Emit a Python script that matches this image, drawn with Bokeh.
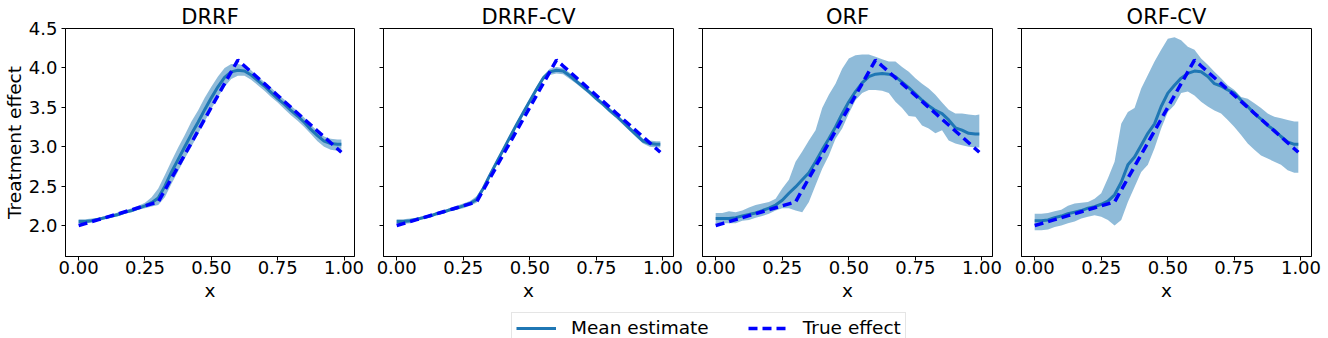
from bokeh.plotting import figure
from bokeh.layouts import column, row
from bokeh.models import (Range1d, FixedTicker, PrintfTickFormatter, Legend,
                          LegendItem)
from bokeh.embed import file_html
from bokeh.resources import INLINE
from bokeh.core.properties import value

# ---------------- data ----------------
x_vals = [0.0, 0.025, 0.05, 0.075, 0.1, 0.125, 0.15, 0.175, 0.2, 0.225, 0.25,
          0.275, 0.3, 0.325, 0.35, 0.375, 0.4, 0.425, 0.45, 0.475, 0.5, 0.525,
          0.55, 0.575, 0.6, 0.625, 0.65, 0.675, 0.7, 0.725, 0.75, 0.775, 0.8,
          0.825, 0.85, 0.875, 0.9, 0.925, 0.95, 0.975, 0.99]

true_effect = [2.0, 2.025, 2.05, 2.075, 2.1, 2.125, 2.15, 2.175, 2.2, 2.225, 2.25,
               2.275, 2.3, 2.45, 2.6, 2.75, 2.9, 3.05, 3.2, 3.35, 3.5, 3.65,
               3.8, 3.95, 4.1, 4.025, 3.95, 3.875, 3.8, 3.725, 3.65, 3.575, 3.5,
               3.425, 3.35, 3.275, 3.2, 3.125, 3.05, 2.975, 2.93]

panel_titles = ["DRRF", "DRRF-CV", "ORF", "ORF-CV"]

drrf_mean = [2.05, 2.05, 2.06, 2.08, 2.10, 2.12, 2.14, 2.17, 2.19, 2.22, 2.25,
             2.29, 2.35, 2.50, 2.68, 2.84, 3.00, 3.16, 3.31, 3.47, 3.62, 3.76,
             3.88, 3.95, 3.97, 3.96, 3.91, 3.84, 3.77, 3.69, 3.61, 3.54, 3.46,
             3.39, 3.31, 3.22, 3.14, 3.07, 3.04, 3.03, 3.03]
drrf_upper = [2.08, 2.08, 2.09, 2.10, 2.12, 2.14, 2.17, 2.19, 2.22, 2.25, 2.29,
              2.36, 2.47, 2.64, 2.82, 2.99, 3.15, 3.32, 3.46, 3.62, 3.76, 3.89,
              4.00, 4.05, 4.05, 4.03, 3.97, 3.89, 3.82, 3.75, 3.67, 3.60, 3.52,
              3.45, 3.37, 3.28, 3.20, 3.13, 3.10, 3.09, 3.09]
drrf_lower = [2.03, 2.03, 2.04, 2.06, 2.08, 2.10, 2.12, 2.15, 2.17, 2.20, 2.22,
              2.24, 2.26, 2.36, 2.53, 2.69, 2.85, 3.00, 3.16, 3.32, 3.48, 3.63,
              3.76, 3.86, 3.90, 3.90, 3.85, 3.78, 3.71, 3.63, 3.56, 3.48, 3.40,
              3.33, 3.25, 3.16, 3.07, 3.00, 2.96, 2.95, 2.95]

drrfcv_mean = [2.05, 2.05, 2.06, 2.08, 2.10, 2.12, 2.15, 2.17, 2.20, 2.22, 2.25,
               2.28, 2.33, 2.47, 2.64, 2.80, 2.96, 3.12, 3.28, 3.43, 3.58, 3.73,
               3.87, 3.95, 3.97, 3.96, 3.90, 3.83, 3.76, 3.69, 3.61, 3.54, 3.46,
               3.39, 3.31, 3.23, 3.15, 3.07, 3.04, 3.03, 3.03]
drrfcv_upper = [2.08, 2.08, 2.09, 2.10, 2.12, 2.14, 2.17, 2.19, 2.22, 2.25, 2.28,
                2.31, 2.37, 2.50, 2.67, 2.83, 2.99, 3.15, 3.31, 3.46, 3.61, 3.76,
                3.90, 3.99, 4.01, 4.00, 3.94, 3.86, 3.79, 3.72, 3.64, 3.57, 3.49,
                3.42, 3.34, 3.26, 3.18, 3.10, 3.08, 3.07, 3.07]
drrfcv_lower = [2.02, 2.02, 2.03, 2.06, 2.08, 2.10, 2.13, 2.15, 2.18, 2.20, 2.22,
                2.25, 2.29, 2.44, 2.61, 2.77, 2.93, 3.09, 3.25, 3.40, 3.55, 3.70,
                3.84, 3.91, 3.93, 3.92, 3.86, 3.80, 3.73, 3.66, 3.58, 3.51, 3.43,
                3.36, 3.28, 3.20, 3.12, 3.04, 3.00, 2.99, 2.99]

orf_mean = [2.09, 2.09, 2.09, 2.10, 2.12, 2.14, 2.16, 2.19, 2.22, 2.26, 2.32,
            2.41, 2.49, 2.58, 2.67, 2.81, 2.96, 3.10, 3.25, 3.42, 3.57, 3.70,
            3.81, 3.89, 3.92, 3.93, 3.92, 3.89, 3.82, 3.75, 3.67, 3.59, 3.52,
            3.46, 3.42, 3.34, 3.24, 3.21, 3.17, 3.16, 3.16]
orf_upper = [2.16, 2.16, 2.18, 2.17, 2.19, 2.23, 2.26, 2.28, 2.30, 2.34, 2.47,
             2.58, 2.81, 2.94, 3.08, 3.21, 3.49, 3.66, 3.80, 3.99, 4.12, 4.16,
             4.17, 4.17, 4.14, 4.11, 4.08, 4.08, 4.01, 3.95, 3.87, 3.80, 3.74,
             3.66, 3.56, 3.47, 3.42, 3.42, 3.41, 3.40, 3.41]
orf_lower = [2.03, 2.03, 2.03, 2.03, 2.06, 2.07, 2.10, 2.12, 2.15, 2.19, 2.22,
             2.22, 2.19, 2.17, 2.30, 2.51, 2.72, 2.89, 3.10, 3.23, 3.42, 3.59,
             3.68, 3.72, 3.72, 3.71, 3.68, 3.57, 3.49, 3.39, 3.38, 3.27, 3.23,
             3.17, 3.21, 3.08, 3.04, 3.02, 3.00, 2.99, 2.99]

orfcv_mean = [2.06, 2.06, 2.07, 2.10, 2.12, 2.15, 2.17, 2.19, 2.22, 2.24, 2.27,
              2.31, 2.39, 2.55, 2.77, 2.87, 3.02, 3.17, 3.29, 3.51, 3.68, 3.78,
              3.87, 3.93, 3.96, 3.95, 3.89, 3.80, 3.77, 3.72, 3.68, 3.59, 3.51,
              3.42, 3.35, 3.27, 3.21, 3.13, 3.06, 3.03, 3.03]
orfcv_upper = [2.15, 2.15, 2.16, 2.18, 2.20, 2.25, 2.28, 2.29, 2.30, 2.34, 2.41,
               2.60, 2.81, 3.29, 3.44, 3.49, 3.74, 3.91, 4.08, 4.23, 4.37, 4.39,
               4.35, 4.27, 4.23, 4.12, 4.04, 3.95, 3.87, 3.78, 3.72, 3.63, 3.61,
               3.55, 3.49, 3.42, 3.38, 3.36, 3.34, 3.32, 3.32]
orfcv_lower = [1.94, 1.94, 1.95, 1.98, 2.00, 2.03, 2.05, 2.09, 2.11, 2.13, 2.11,
               2.07, 2.00, 2.07, 2.30, 2.49, 2.68, 2.77, 2.98, 3.23, 3.44, 3.53,
               3.68, 3.70, 3.65, 3.57, 3.51, 3.46, 3.42, 3.34, 3.25, 3.15, 3.04,
               2.96, 2.89, 2.85, 2.81, 2.77, 2.70, 2.67, 2.67]

x_ticks = [0.0, 0.25, 0.5, 0.75, 1.0]
y_ticks = [2.0, 2.5, 3.0, 3.5, 4.0, 4.5]
legend_labels = ["Mean estimate", "True effect"]

# ---------------- styling ----------------
FONT = "DejaVu Sans"
C0 = "#1f77b4"
TRUE_COLOR = "#0000ff"
FRAME_W, FRAME_H = 290, 228
TOP, BOTTOM, RIGHT = 28, 50, 10
LEG_H = 32

series = [(drrf_mean, drrf_lower, drrf_upper),
          (drrfcv_mean, drrfcv_lower, drrfcv_upper),
          (orf_mean, orf_lower, orf_upper),
          (orfcv_mean, orfcv_lower, orfcv_upper)]

figs = []
for i, (name, (mean, lo, hi)) in enumerate(zip(panel_titles, series)):
    left = 64 if i == 0 else 19
    p = figure(width=left + FRAME_W + RIGHT, height=TOP + FRAME_H + BOTTOM,
               x_range=Range1d(-0.0495, 1.0395), y_range=Range1d(1.607, 4.5),
               toolbar_location=None, output_backend="svg",
               min_border_left=left, min_border_right=RIGHT,
               min_border_top=TOP, min_border_bottom=BOTTOM, title=name)
    p.varea(x=x_vals, y1=lo, y2=hi, fill_color=C0, fill_alpha=0.5)
    p.line(x_vals, mean, line_color=C0, line_width=3)
    p.line(x_vals, true_effect, line_color=TRUE_COLOR, line_width=3.5,
           line_dash="9 5")

    p.grid.visible = False
    p.outline_line_color = "black"
    p.outline_line_width = 1
    p.outline_line_alpha = 1
    p.background_fill_color = "white"
    p.border_fill_color = "white"

    p.title.text_font = FONT
    p.title.text_font_size = "21px"
    p.title.text_font_style = "normal"
    p.title.text_color = "black"
    p.title.align = "center"
    p.title.standoff = 0

    for ax in (p.xaxis, p.yaxis):
        ax.axis_line_color = "black"
        ax.major_tick_line_color = "black"
        ax.major_tick_in = 0
        ax.major_tick_out = 4
        ax.minor_tick_line_color = None
        ax.minor_tick_out = 0
        ax.major_label_text_font = FONT
        ax.major_label_text_font_size = "18px"
        ax.major_label_text_color = "black"
        ax.axis_label_text_font = FONT
        ax.axis_label_text_font_size = "18.5px"
        ax.axis_label_text_font_style = "normal"
        ax.axis_label_text_color = "black"

    p.xaxis.ticker = FixedTicker(ticks=x_ticks)
    p.xaxis.formatter = PrintfTickFormatter(format="%.2f")
    p.xaxis.major_label_standoff = 0
    p.xaxis.axis_label = "x"
    p.xaxis.axis_label_standoff = 3

    p.yaxis.ticker = FixedTicker(ticks=y_ticks)
    p.yaxis.formatter = PrintfTickFormatter(format="%.1f")
    if i == 0:
        p.yaxis.axis_label = "Treatment effect"
        p.yaxis.major_label_standoff = 4
        p.yaxis.axis_label_standoff = 1
    else:
        # shared y axis: ticks only, no tick labels
        p.yaxis.major_label_text_font_size = "6px"
        p.yaxis.major_label_text_color = None
        p.yaxis.major_label_standoff = 0
    figs.append(p)

# ---------------- legend strip ----------------
# the strip's renderers carry the DRRF series, but its y range is placed away
# from them so that only the legend itself shows
lf = figure(width=1321, height=LEG_H, x_range=Range1d(0, 1),
            y_range=Range1d(10, 11),
            toolbar_location=None, output_backend="svg",
            min_border_left=511, min_border_top=6, min_border_right=0,
            min_border_bottom=0, x_axis_type=None, y_axis_type=None,
            outline_line_color=None)
lf.grid.visible = False
r_mean = lf.line(x_vals, drrf_mean, line_color=C0, line_width=3)
r_true = lf.line(x_vals, true_effect, line_color=TRUE_COLOR, line_width=3.5,
                 line_dash="9 5")
leg = Legend(items=[LegendItem(label=value(legend_labels[0]), renderers=[r_mean]),
                    LegendItem(label=value(legend_labels[1]), renderers=[r_true])],
             location="top_left", orientation="horizontal", margin=0,
             padding=4, spacing=39, glyph_width=40, glyph_height=20,
             label_standoff=15, label_height=20,
             label_text_font=FONT, label_text_font_size="18.5px",
             label_text_color="black",
             border_line_color="#cccccc", border_line_width=1,
             background_fill_color="white", background_fill_alpha=1)
lf.add_layout(leg)

layout = column(row(*figs), lf)
open("out.html", "w").write(file_html(layout, INLINE))
